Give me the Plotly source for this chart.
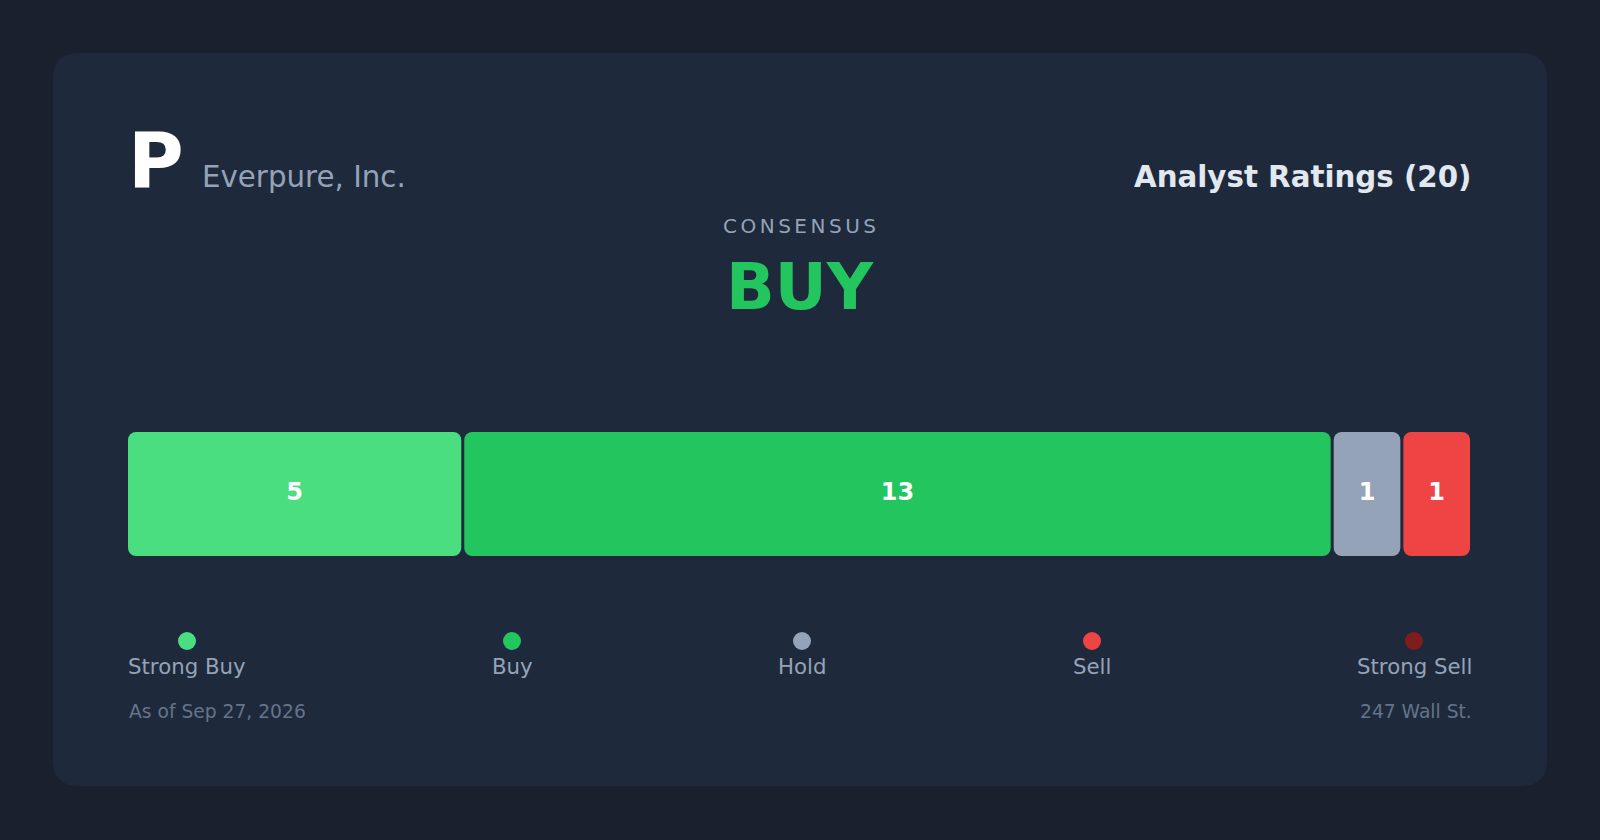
import plotly.graph_objects as go

# ---------------- data ----------------
CATEGORIES = ["Strong Buy", "Buy", "Hold", "Sell", "Strong Sell"]
COUNTS = [5, 13, 1, 1, 0]
COLORS = ["#4ade80", "#22c55e", "#94a3b8", "#ef4444", "#7f1d1d"]
TICKER = "P"
COMPANY = "Everpure, Inc."
TITLE = "Analyst Ratings"
CONSENSUS_LABEL = "CONSENSUS"
CONSENSUS = "BUY"
AS_OF = "As of Sep 27, 2026"
SOURCE = "247 Wall St."

# ---------------- layout constants (px) ----------------
W, H = 1600, 840
OUTER_BG = "#19212f"
CARD_BG = "#1e293b"
CARD = (53, 53, 1547, 786, 26)
BAR_L, BAR_R, BAR_T, BAR_B = 128, 1470, 432, 556
GAP = 3
RADIUS = 8
LEGEND_X = [187, 512, 802, 1092, 1414]
LEGEND_DOT_Y = 641
FONT = "DejaVu Sans"

TOTAL = sum(COUNTS)


def px(x):
    return x / W


def py(y):
    return 1 - y / H


def rounded_rect(x0, y0, x1, y1, r):
    pts = [
        f"M {px(x0 + r)},{py(y0)}",
        f"L {px(x1 - r)},{py(y0)}",
        f"Q {px(x1)},{py(y0)} {px(x1)},{py(y0 + r)}",
        f"L {px(x1)},{py(y1 - r)}",
        f"Q {px(x1)},{py(y1)} {px(x1 - r)},{py(y1)}",
        f"L {px(x0 + r)},{py(y1)}",
        f"Q {px(x0)},{py(y1)} {px(x0)},{py(y1 - r)}",
        f"L {px(x0)},{py(y0 + r)}",
        f"Q {px(x0)},{py(y0)} {px(x0 + r)},{py(y0)}",
        "Z",
    ]
    return " ".join(pts)


fig = go.Figure()

# ---------------- bar segments (flex-like: fixed gaps between segments) ----------------
n_vis = sum(1 for c in COUNTS if c > 0)
ppu = (BAR_R - BAR_L - GAP * (n_vis - 1)) / TOTAL
g = GAP / ppu
x_max = TOTAL + g * (n_vis - 1)

seg_base, seg_len, seg_col, mids, labels = [], [], [], [], []
pos = 0.0
for c, col in zip(COUNTS, COLORS):
    if c == 0:
        continue
    seg_base.append(pos)
    seg_len.append(c)
    seg_col.append(col)
    mids.append(pos + c / 2)
    labels.append(str(c))
    pos += c + g

fig.add_trace(go.Bar(
    x=seg_len, base=seg_base, y=[0] * len(seg_len), orientation="h", width=1,
    marker=dict(color=seg_col, line=dict(width=0), cornerradius=RADIUS),
    hoverinfo="skip", showlegend=False,
))

fig.add_trace(go.Scatter(
    x=mids, y=[0] * len(mids), mode="text", text=labels,
    textposition="middle center",
    textfont=dict(family=FONT, size=24, color="#ffffff", weight="bold"),
    hoverinfo="skip", showlegend=False, cliponaxis=False,
))

# ---------------- legend dots ----------------
fig.add_trace(go.Scatter(
    x=LEGEND_X, y=[LEGEND_DOT_Y] * len(LEGEND_X), mode="markers",
    marker=dict(size=18, color=COLORS, line=dict(width=0)),
    xaxis="x2", yaxis="y2", hoverinfo="skip", showlegend=False, cliponaxis=False,
))

annotations = []


def ann(text, x, y, size, color, xanchor="left", weight="normal"):
    annotations.append(dict(
        text=text, x=px(x), y=py(y), xref="paper", yref="paper",
        xanchor=xanchor, yanchor="middle", showarrow=False,
        font=dict(family=FONT, size=size, color=color, weight=weight),
    ))


ann(TICKER, 126, 160.4, 76, "#ffffff", weight="bold")
ann(COMPANY, 200, 176.7, 29.3, "#94a3b8")
ann(f"{TITLE} ({TOTAL})", 1473, 176.5, 29.3, "#e2e8f0", xanchor="right", weight="bold")
ann(f'<span style="letter-spacing:3.5px">{CONSENSUS_LABEL}</span>', 801.5, 226.4, 20, "#94a3b8", xanchor="center")
ann(CONSENSUS, 800, 286.9, 64, "#22c55e", xanchor="center", weight="bold")
for cat, lx in zip(CATEGORIES, LEGEND_X):
    ann(cat, lx, 666.7, 21.3, "#94a3b8", xanchor="center")
ann(AS_OF, 126.5, 711.2, 18.7, "#64748b")
ann(SOURCE, 1474, 711.2, 18.7, "#64748b", xanchor="right")

x0, y0, x1, y1, r = CARD
fig.update_layout(
    width=W, height=H,
    margin=dict(l=0, r=0, t=0, b=0),
    paper_bgcolor=OUTER_BG, plot_bgcolor="rgba(0,0,0,0)",
    barmode="overlay",
    xaxis=dict(domain=[px(BAR_L), px(BAR_R)], range=[0, x_max],
               visible=False, fixedrange=True),
    yaxis=dict(domain=[py(BAR_B), py(BAR_T)], range=[-0.5, 0.5],
               visible=False, fixedrange=True),
    xaxis2=dict(domain=[0, 1], range=[0, W], visible=False, fixedrange=True, anchor="y2"),
    yaxis2=dict(domain=[0, 1], range=[H, 0], visible=False, fixedrange=True, anchor="x2"),
    shapes=[dict(type="path", path=rounded_rect(x0, y0, x1, y1, r), xref="paper", yref="paper",
                 fillcolor=CARD_BG, line=dict(width=0), layer="below")],
    annotations=annotations,
    showlegend=False,
)

fig.write_html(
    "out.html",
    config={"displayModeBar": False},
    post_script=f"document.body.style.margin='0';document.body.style.background='{OUTER_BG}';",
)
